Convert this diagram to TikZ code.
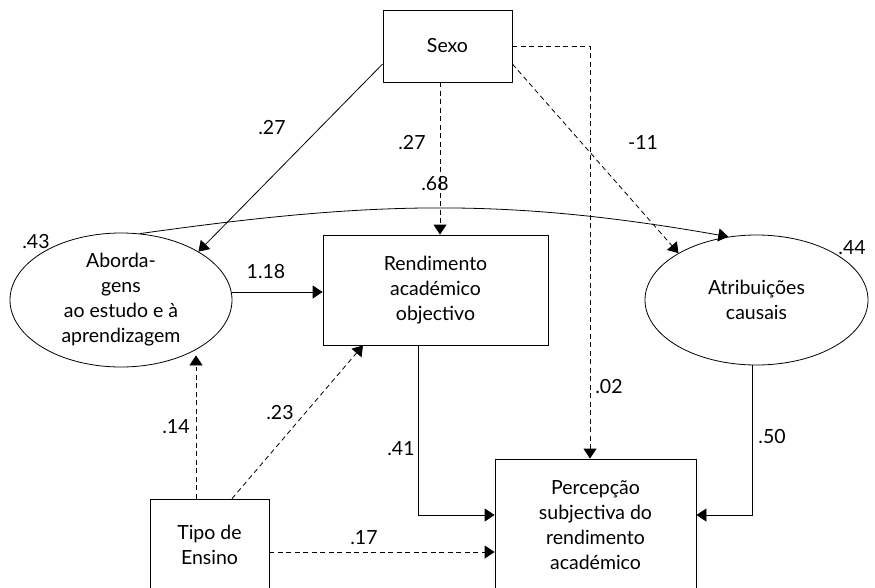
\documentclass[tikz,border=0pt]{standalone}
\usepackage{fontspec}
\setmainfont{Lato}
\usetikzlibrary{arrows.meta,shapes.geometric}

\begin{document}
\begin{tikzpicture}[
x=1pt, y=-1pt,
line width=0.8pt,
every node/.style={font=\fontsize{19.5}{25}\selectfont, align=center},
obsbox/.style={draw, rectangle, inner sep=0pt},
latent/.style={draw, ellipse, inner sep=0pt},
coef/.style={inner sep=0pt},
arr/.style={-{Triangle[length=10pt,width=13pt]}},
dashd/.style={arr, dash pattern=on 5pt off 3.5pt},
]
\useasboundingbox (0,0) rectangle (875,587);
\node[obsbox, minimum width=129pt, minimum height=72pt] (sexo) at (447.5,46) {Sexo};
\node[obsbox, minimum width=225pt, minimum height=110pt] (rend) at (435.5,290) {Rendimento\\académico\\objectivo};
\node[latent, minimum width=222pt, minimum height=134pt] (abord) at (121,300) {Aborda-\\gens\\ao estudo e à\\aprendizagem};
\node[latent, minimum width=223pt, minimum height=130pt] (atrib) at (756.5,300) {Atribuições\\causais};
\node[obsbox, minimum width=201pt, minimum height=132pt] (perc) at (595.5,525) {Percepção\\subjectiva do\\rendimento\\académico};
\node[obsbox, minimum width=119pt, minimum height=92pt] (tipo) at (209.5,545) {Tipo de\\Ensino};

\draw[arr] ([yshift=-18pt]sexo.west) -- (abord.32);
\draw[dashd] ([xshift=-7.5pt]sexo.south) -- ([xshift=4.5pt]rend.north);
\draw[dashd] (sexo.east) -| ([xshift=-5.5pt]perc.north);
\draw[dashd] ([yshift=-18pt]sexo.east) -- (atrib.149);
\draw[arr] (abord.74) to[out=8, in=170] (atrib.114);
\draw[arr] ([yshift=8pt]abord.east) -- ([yshift=8pt]abord.east -| rend.west);
\draw[dashd] ([xshift=-13.5pt]tipo.north) -- ([xshift=-13.5pt]tipo.north |- abord.south) ++(0,-12);
\draw[dashd] ([xshift=22.5pt]tipo.north) -- ([xshift=-72.5pt]rend.south);
\draw[arr] ([xshift=-17.5pt]rend.south) |- ([yshift=10pt]perc.west);
\draw[dashd] ([yshift=-7pt]tipo.east) -- ([yshift=-7pt]tipo.east -| perc.west);
\draw[arr] ([xshift=-4pt]atrib.south) |- ([yshift=10pt]perc.east);

\node[coef] (c1) at (272,128) {.27};
\node[coef] (c2) at (412,143) {.27};
\node[coef] (c3) at (643,142) {-11};
\node[coef] (c4) at (435,184) {.68};
\node[coef] (c5) at (36,242) {.43};
\node[coef] (c6) at (852,248) {.44};
\node[coef] (c7) at (266,272) {1.18};
\node[coef] (c8) at (176,427) {.14};
\node[coef] (c9) at (280,413) {.23};
\node[coef] (c10) at (609,387) {.02};
\node[coef] (c11) at (401,449) {.41};
\node[coef] (c12) at (772,437) {.50};
\node[coef] (c13) at (364,538) {.17};
\end{tikzpicture}
\end{document}
